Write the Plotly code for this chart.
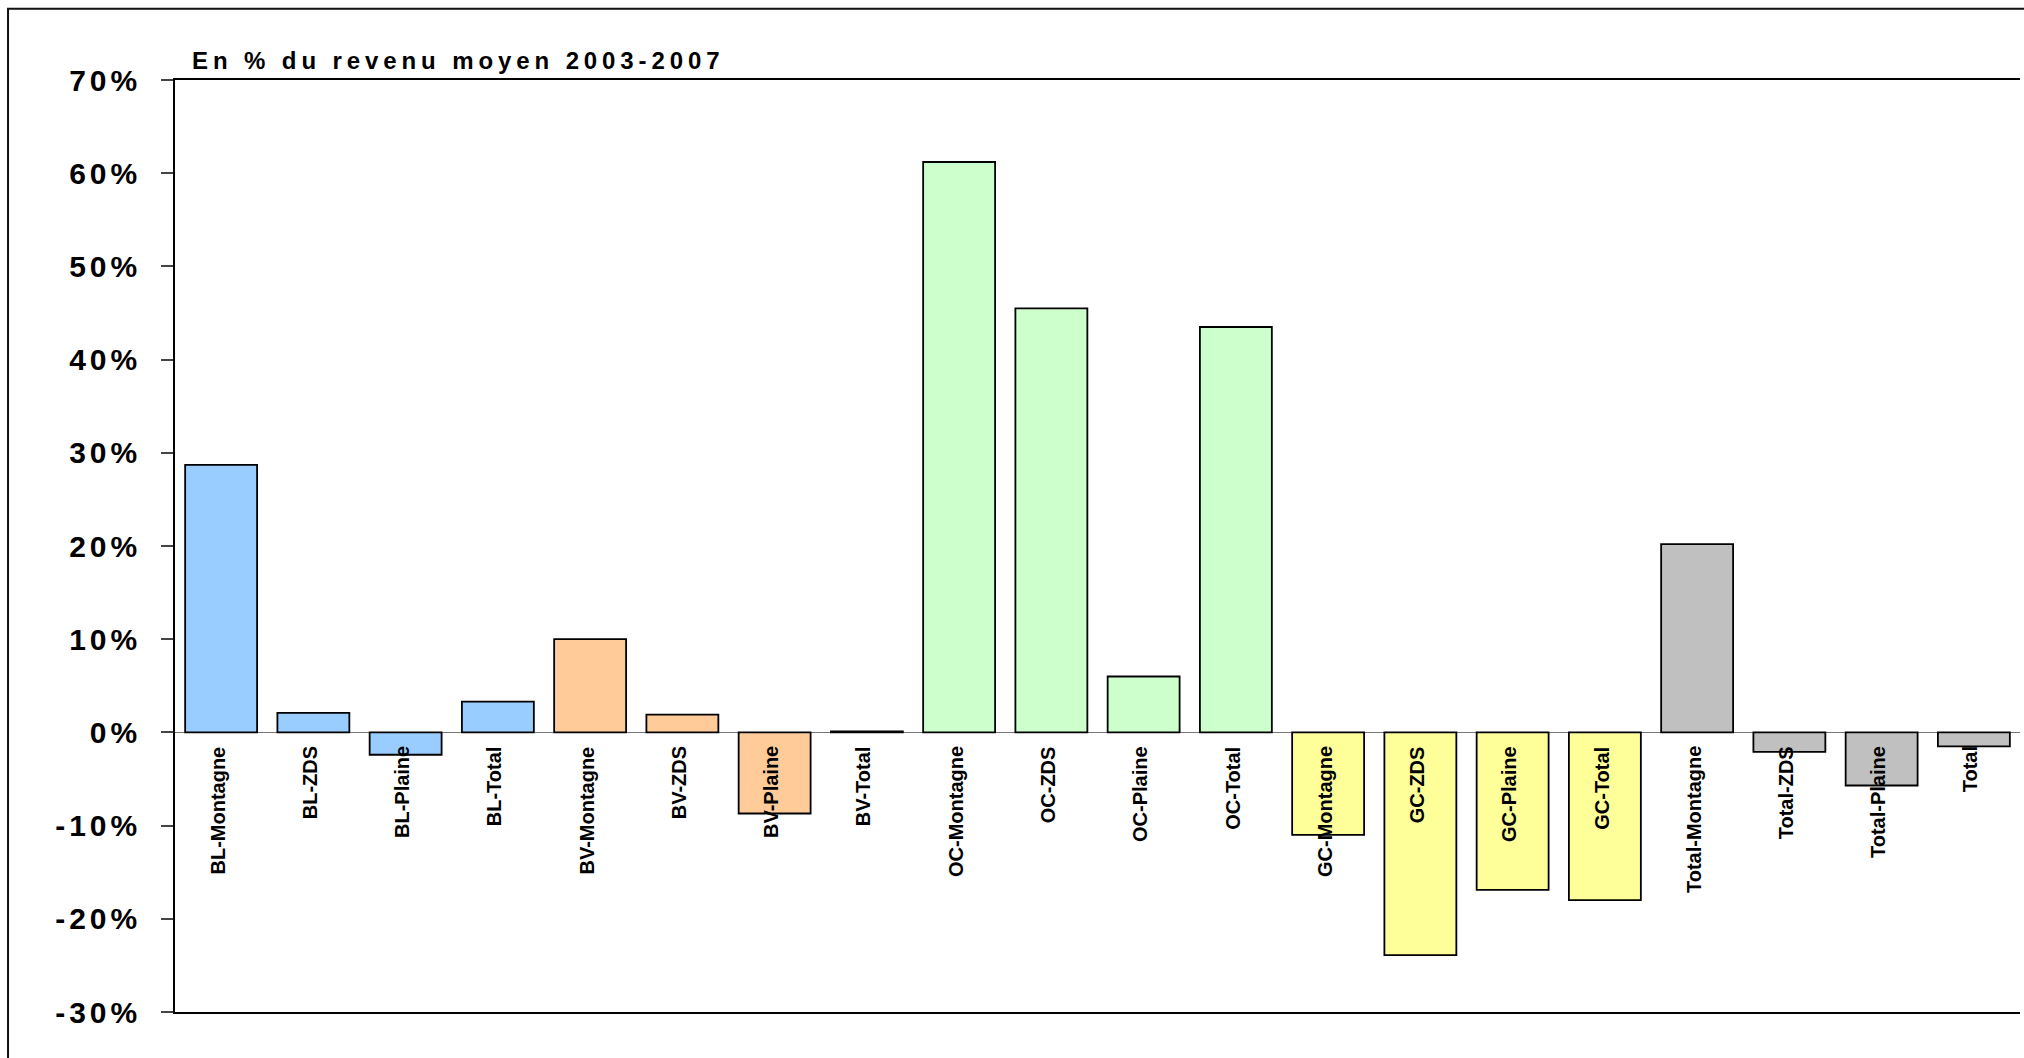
import plotly.graph_objects as go

categories = ["BL-Montagne", "BL-ZDS", "BL-Plaine", "BL-Total",
              "BV-Montagne", "BV-ZDS", "BV-Plaine", "BV-Total",
              "OC-Montagne", "OC-ZDS", "OC-Plaine", "OC-Total",
              "GC-Montagne", "GC-ZDS", "GC-Plaine", "GC-Total",
              "Total-Montagne", "Total-ZDS", "Total-Plaine", "Total"]
values = [28.7, 2.1, -2.4, 3.3,
          10.0, 1.9, -8.7, 0.1,
          61.2, 45.5, 6.0, 43.5,
          -11.0, -23.9, -16.9, -18.0,
          20.2, -2.1, -5.7, -1.5]
groups = ["BL"] * 4 + ["BV"] * 4 + ["OC"] * 4 + ["GC"] * 4 + ["Total"] * 4
group_colors = {"BL": "#99CCFF", "BV": "#FFCC99", "OC": "#CCFFCC",
                "GC": "#FFFF99", "Total": "#C0C0C0"}
tick_vals = [-30, -20, -10, 0, 10, 20, 30, 40, 50, 60, 70]
tick_labels = ["-30%", "-20%", "-10%", "0%", "10%", "20%", "30%",
               "40%", "50%", "60%", "70%"]
title_text = "En % du revenu moyen 2003-2007"

FONT = "Arial, 'Liberation Sans', sans-serif"

fig = go.Figure()
fig.add_trace(go.Bar(
    x=categories, y=values,
    marker=dict(color=[group_colors[g] for g in groups],
                line=dict(color="#000000", width=1.8)),
    showlegend=False,
))

annotations = []
for c in categories:
    annotations.append(dict(
        x=c, y=0, xref="x", yref="y", text="<b>%s</b>" % c,
        textangle=-90, showarrow=False, xanchor="center", yanchor="top",
        yshift=-12, xshift=-3,
        font=dict(family=FONT, size=20, color="#000000"),
    ))
annotations.append(dict(
    x=0.008, y=1, xref="paper", yref="paper", xanchor="left", yanchor="bottom",
    yshift=4, showarrow=False,
    text='<span style="letter-spacing:4.9px"><b>%s</b></span>' % title_text,
    font=dict(family=FONT, size=24, color="#000000"),
))

fig.update_layout(
    width=2024, height=1058,
    margin=dict(l=175, r=4, t=80, b=46),
    paper_bgcolor="#FFFFFF", plot_bgcolor="#FFFFFF",
    bargap=0.22,
    annotations=annotations,
    shapes=[dict(type="rect", xref="paper", yref="paper",
                 x0=-0.0905, x1=1.05, y0=-0.3, y1=1.0765,
                 line=dict(color="#111111", width=2), layer="below")],
    xaxis=dict(showline=True, mirror=True, linecolor="#000000", linewidth=2,
               showticklabels=False, ticks="", showgrid=False, zeroline=False,
               fixedrange=True),
    yaxis=dict(range=[-30, 70], tickvals=tick_vals,
               ticktext=['<span style="letter-spacing:4px"><b>%s</b></span>' % t for t in tick_labels],
               tickfont=dict(family=FONT, size=30, color="#000000"),
               showline=True, linecolor="#000000", linewidth=1.6,
               ticks="outside", ticklen=12, tickcolor="#444444", tickwidth=1.5,
               ticklabelstandoff=14,
               showgrid=False, zeroline=True, zerolinecolor="#777777",
               zerolinewidth=1.2),
)

fig.write_html("out.html")
